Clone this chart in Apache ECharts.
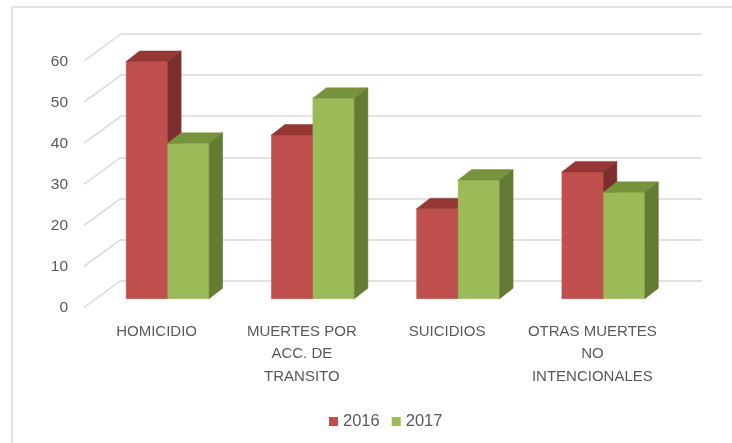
<!DOCTYPE html>
<html>
<head>
<meta charset="utf-8">
<script src="https://cdn.jsdelivr.net/npm/echarts@6/dist/echarts.min.js"></script>
<style>
  html, body { margin: 0; padding: 0; background: #fff; }
  #chart { width: 732px; height: 443px; }
</style>
</head>
<body>
<div id="chart"></div>
<script>
// chart data
var categories = ['HOMICIDIO', 'MUERTES POR\nACC. DE\nTRANSITO', 'SUICIDIOS', 'OTRAS MUERTES\nNO\nINTENCIONALES'];
var years = ['2016', '2017'];
var values2016 = [58, 40, 22, 31];
var values2017 = [38, 49, 29, 26];
var yTicks = [0, 10, 20, 30, 40, 50, 60];

// face colours: front, top, side
var faces = [
  ['#C0504D', '#953735', '#7D2E2C'],
  ['#9BBB59', '#77933C', '#637B32']
];

var FONT = 'Liberation Sans';
var TEXT = '#595959';
var GRID_LINE = '#d9d9d9';

var dom = document.getElementById('chart');
var myChart = echarts.init(dom, null, { renderer: 'canvas' });

// draws one 3d-looking column (front, top and right side faces)
function barItem(idx) {
  return function (params, api) {
    var ci = api.value(0);
    var v = api.value(1);
    var base = api.coord([ci, 0]);
    var top = api.coord([ci, v]);
    var w = api.size([1, 0])[0] * 0.2857;
    var x0 = idx === 0 ? base[0] - w : base[0];
    var x1 = x0 + w;
    var yt = top[1], yb = base[1];
    var dx = 13.5, dy = -10.5;
    var c = faces[idx];
    return {
      type: 'group',
      children: [
        {
          type: 'rect',
          shape: { x: x0, y: yt, width: w, height: yb - yt },
          style: { fill: c[0], stroke: c[0], lineWidth: 0.5 }
        },
        {
          type: 'polygon',
          shape: { points: [[x0, yt], [x1, yt], [x1 + dx, yt + dy], [x0 + dx, yt + dy]] },
          style: { fill: c[1], stroke: c[1], lineWidth: 0.5 }
        },
        {
          type: 'polygon',
          shape: { points: [[x1, yt], [x1 + dx, yt + dy], [x1 + dx, yb + dy], [x1, yb]] },
          style: { fill: c[2], stroke: c[2], lineWidth: 0.5 }
        }
      ]
    };
  };
}

var option = {
  backgroundColor: '#fff',
  animation: false,
  color: [faces[0][0], faces[1][0]],
  graphic: [{
    type: 'rect',
    shape: { x: 12, y: 7, width: 800, height: 500 },
    style: { fill: 'none', stroke: GRID_LINE, lineWidth: 1.5 },
    z: -1
  }],
  legend: {
    data: years,
    left: 324,
    top: 408,
    icon: 'rect',
    itemWidth: 9,
    itemHeight: 9,
    itemGap: 12,
    textStyle: { fontFamily: FONT, fontSize: 16.5, color: TEXT }
  },
  grid: [
    // back wall
    { left: 121, right: 30, top: 34, bottom: 162.5 },
    // front edge (labels)
    { left: 84, right: 67, top: 61.5, bottom: 135.5 },
    // plane of the columns
    { left: 95, right: 56, top: 53.3, bottom: 144.3 }
  ],
  xAxis: [
    { gridIndex: 0, type: 'category', data: categories, show: false },
    {
      gridIndex: 1, type: 'category', data: categories,
      axisLine: { show: false }, axisTick: { show: false },
      axisLabel: {
        interval: 0, margin: 13, fontFamily: FONT, fontSize: 15,
        color: TEXT, lineHeight: 22.5
      }
    },
    { gridIndex: 2, type: 'category', data: categories, show: false }
  ],
  yAxis: [
    {
      gridIndex: 0, type: 'value', min: 0, max: 60, interval: 10,
      axisLine: { show: false }, axisTick: { show: false }, axisLabel: { show: false },
      splitLine: { lineStyle: { color: GRID_LINE, width: 1.5 } }
    },
    {
      gridIndex: 1, type: 'value', min: 0, max: 60, interval: 10,
      axisLine: { show: false }, axisTick: { show: false }, splitLine: { show: false },
      axisLabel: { margin: 16, fontFamily: FONT, fontSize: 15.5, color: TEXT }
    },
    { gridIndex: 2, type: 'value', min: 0, max: 60, interval: 10, show: false }
  ],
  series: [
    {
      // side-wall lines joining the labels to the back wall
      type: 'custom',
      xAxisIndex: 0,
      yAxisIndex: 0,
      clip: false,
      silent: true,
      data: yTicks.map(function (v) { return [0, v]; }),
      renderItem: function (params, api) {
        var p = api.coord([0, api.value(1)]);
        var x = params.coordSys.x;
        return {
          type: 'line',
          shape: { x1: x, y1: p[1], x2: x - 37, y2: p[1] + 27 },
          style: { stroke: GRID_LINE, lineWidth: 1.5 }
        };
      }
    },
    {
      name: years[0],
      type: 'custom',
      xAxisIndex: 2,
      yAxisIndex: 2,
      clip: false,
      itemStyle: { color: faces[0][0] },
      data: values2016.map(function (v, i) { return [i, v]; }),
      renderItem: barItem(0)
    },
    {
      name: years[1],
      type: 'custom',
      xAxisIndex: 2,
      yAxisIndex: 2,
      clip: false,
      itemStyle: { color: faces[1][0] },
      data: values2017.map(function (v, i) { return [i, v]; }),
      renderItem: barItem(1)
    }
  ]
};

myChart.setOption(option);
window.addEventListener('resize', myChart.resize);
</script>
</body>
</html>
